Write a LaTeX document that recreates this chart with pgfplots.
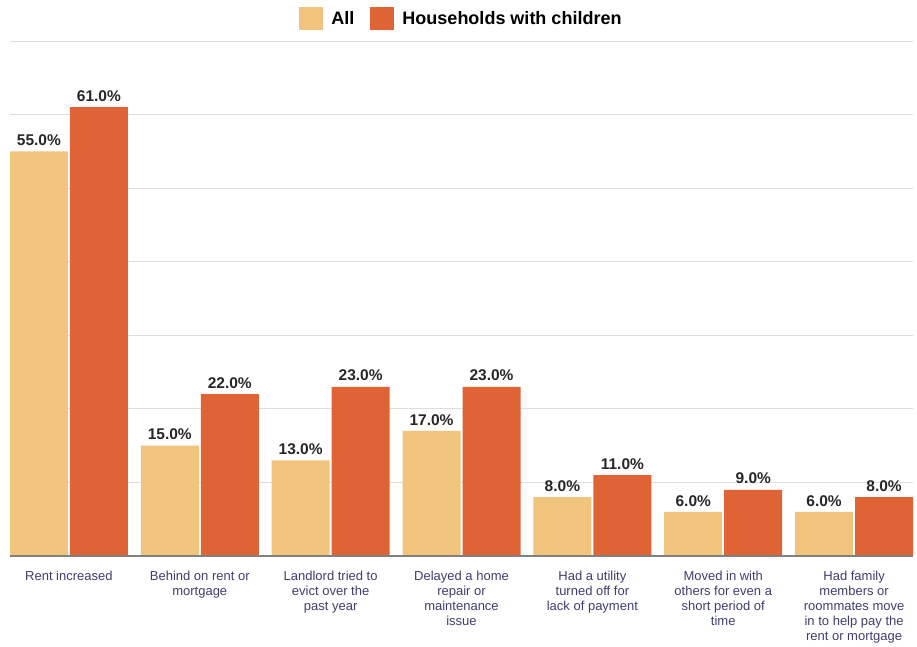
\documentclass[border=0pt]{standalone}
\usepackage{pgfplots}
\pgfplotsset{compat=1.18}
\usepackage{fontspec}
\setmainfont{Liberation Sans}
\definecolor{cAll}{HTML}{F0C47C}
\definecolor{cKid}{HTML}{E06336}
\definecolor{lab}{HTML}{3F3D6E}
\definecolor{grd}{HTML}{DDDDDD}
\definecolor{base}{HTML}{808080}
\begin{document}
\begin{tikzpicture}[x=1pt,y=1pt]
\path[use as bounding box] (-10,-90) rectangle (907,556);
\begin{axis}[
  at={(0,0)}, anchor=south west,
  scale only axis, width=903pt, height=515pt,
  ybar, bar width=58pt,
  xmin=-0.45, xmax=6.45, ymin=0, ymax=70,
  axis line style={draw=none},
  ytick={10,20,30,40,50,60,70}, yticklabels={},
  ymajorgrids, grid style={grd, line width=1pt},
  major tick length=0pt,
  xtick={0,1,2,3,4,5,6},
  xticklabels={
    {Rent increased},
    {Behind on rent or\\mortgage},
    {Landlord tried to\\evict over the\\past year},
    {Delayed a home\\repair or\\maintenance\\issue},
    {Had a utility\\turned off for\\lack of payment},
    {Moved in with\\others for even a\\short period of\\time},
    {Had family\\members or\\roommates move\\in to help pay the\\rent or mortgage}},
  xticklabel style={font=\fontsize{13}{15}\selectfont, text=lab, align=center, anchor=north, yshift=-12pt},
  nodes near coords={\pgfmathprintnumber[fixed,fixed zerofill,precision=1,assume math mode=true]{\pgfplotspointmeta}\%},
  every node near coord/.append style={font=\fontsize{15.5}{18}\selectfont\bfseries, text=black!85, inner sep=2pt, yshift=3.5pt},
  legend style={at={(0.5,1)}, yshift=9pt, anchor=south, draw=none, legend columns=2,
    font=\fontsize{18}{20}\selectfont\bfseries, column sep=6pt,
    /tikz/every even column/.append style={column sep=14pt}},
  legend image code/.code={\fill[#1] (0pt,-11.5pt) rectangle (24pt,11.5pt);},
]
\addplot[fill=cAll, draw=none, bar shift=-30pt] coordinates {(0,55) (1,15) (2,13) (3,17) (4,8) (5,6) (6,6)};
\addplot[fill=cKid, draw=none, bar shift=30pt] coordinates {(0,61) (1,22) (2,23) (3,23) (4,11) (5,9) (6,8)};
\legend{All, Households with children}
\draw[base, line width=1.2pt] (axis cs:-0.45,0) -- (axis cs:6.45,0);
\end{axis}
\end{tikzpicture}
\end{document}
